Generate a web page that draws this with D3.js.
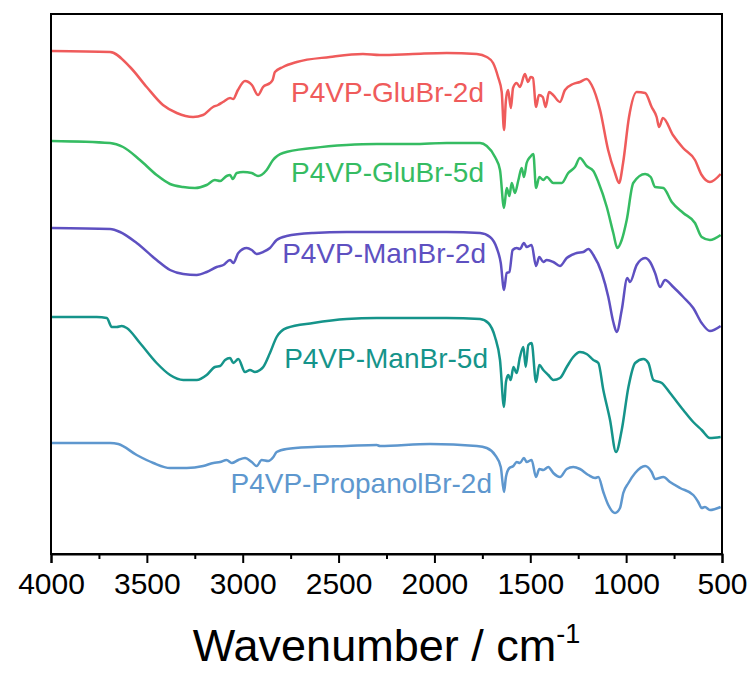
<!DOCTYPE html>
<html>
<head>
<meta charset="utf-8">
<script src="https://cdn.jsdelivr.net/npm/d3@7"></script>
<style>
  html, body { margin: 0; padding: 0; background: #fff; }
  svg { display: block; }
</style>
</head>
<body>
<svg id="chart" width="753" height="674"></svg>
<script>
// ---- data (wavenumber cm^-1, transmittance in stacked arbitrary units) ----
const seriesNames = ["P4VP-GluBr-2d", "P4VP-GluBr-5d", "P4VP-ManBr-2d", "P4VP-ManBr-5d", "P4VP-PropanolBr-2d"];

const gluBr2d = [[3996,50.3],[3692,50.2],[3588,48.7],[3501,46.7],[3416,44.9],[3344,44.1],[3259,43.7],[3207,43.9],[3155,44.7],[3129,44.9],[3103,45.2],[3066,45.6],[3050,45.5],[3025,46.4],[2988,47.3],[2952,46.9],[2920,45.9],[2894,46.7],[2858,47.1],[2844,47.4],[2832,48.2],[2790,48.7],[2718,49.2],[2545,49.7],[2373,50.0],[2284,49.9],[2112,50.0],[1936,50.1],[1779,50.0],[1727,49.7],[1694,49.1],[1668,47.7],[1649,46.2],[1637,42.4],[1627,45.4],[1616,46.4],[1601,44.6],[1590,46.6],[1571,47.1],[1554,46.7],[1528,48.0],[1512,47.2],[1498,47.7],[1486,47.6],[1470,44.7],[1455,45.9],[1435,45.7],[1420,44.7],[1402,46.2],[1381,45.9],[1345,45.2],[1319,46.4],[1277,47.0],[1241,47.2],[1206,47.5],[1180,46.9],[1136,44.4],[1094,40.4],[1058,38.1],[1037,37.1],[1016,39.1],[985,43.7],[945,46.2],[901,46.1],[867,44.7],[841,43.7],[828,42.7],[808,43.6],[756,41.9],[703,40.6],[641,39.4],[606,37.9],[563,37.2],[507,38.0]];

const gluBr5d = [[3996,41.3],[3692,41.1],[3624,40.7],[3536,39.4],[3449,37.9],[3379,37.0],[3311,36.7],[3249,36.6],[3188,36.9],[3145,37.4],[3118,37.3],[3084,37.8],[3066,37.9],[3052,37.5],[3031,38.1],[2998,38.2],[2953,38.1],[2920,37.8],[2875,38.4],[2842,39.4],[2790,40.1],[2633,40.6],[2458,40.9],[2301,41.0],[2112,41.0],[1936,41.1],[1762,41.1],[1727,40.8],[1684,39.7],[1658,38.4],[1637,34.6],[1623,36.6],[1609,35.8],[1597,37.1],[1580,36.1],[1562,37.4],[1545,38.6],[1533,37.7],[1519,39.1],[1501,39.7],[1484,40.0],[1470,36.6],[1453,37.7],[1432,37.4],[1414,37.7],[1380,37.1],[1336,37.1],[1302,38.1],[1267,38.7],[1241,39.6],[1206,38.8],[1171,38.3],[1145,37.2],[1101,34.7],[1067,32.1],[1046,30.6],[1023,31.4],[997,33.4],[963,37.1],[901,38.0],[872,37.7],[849,36.7],[806,36.6],[762,35.2],[702,34.1],[641,33.1],[606,31.7],[563,31.4],[507,31.9]];

const manBr2d = [[3996,32.6],[3692,32.5],[3640,32.2],[3553,31.1],[3449,29.4],[3379,28.4],[3310,28.0],[3240,27.9],[3188,28.2],[3136,28.7],[3101,28.9],[3066,29.4],[3049,29.1],[3023,30.1],[2979,30.6],[2953,30.4],[2927,30.0],[2893,30.2],[2858,30.6],[2823,31.4],[2771,31.8],[2632,32.1],[2458,32.2],[2301,32.2],[2110,32.2],[1936,32.2],[1762,32.1],[1710,31.7],[1675,30.6],[1654,29.1],[1637,26.4],[1623,28.1],[1609,28.2],[1592,30.4],[1571,30.6],[1554,30.5],[1533,31.1],[1519,30.7],[1493,30.9],[1470,28.8],[1453,29.7],[1432,29.2],[1414,29.4],[1380,29.2],[1345,28.8],[1310,29.6],[1258,30.1],[1223,30.2],[1197,30.5],[1171,29.9],[1127,28.1],[1093,25.7],[1067,23.2],[1049,22.2],[1023,24.4],[994,27.6],[980,27.2],[945,28.9],[901,29.6],[875,29.2],[849,28.1],[823,26.7],[797,27.4],[754,26.7],[702,25.7],[650,24.6],[606,23.1],[563,22.3],[507,22.8]];

const manBr5d = [[3996,23.7],[3762,23.7],[3709,23.6],[3683,22.7],[3657,22.7],[3631,22.8],[3605,22.6],[3536,21.1],[3449,19.1],[3379,17.9],[3310,17.4],[3240,17.4],[3188,17.9],[3145,18.7],[3118,18.8],[3092,19.4],[3066,19.6],[3049,19.1],[3023,19.5],[2988,18.2],[2962,18.4],[2936,18.2],[2910,18.4],[2893,18.7],[2858,20.1],[2823,21.7],[2771,22.6],[2632,23.1],[2458,23.5],[2301,23.6],[2110,23.6],[1936,23.6],[1762,23.5],[1719,23.1],[1684,21.7],[1658,19.4],[1637,14.7],[1627,17.2],[1615,17.9],[1602,17.4],[1588,18.7],[1571,18.1],[1554,19.7],[1536,20.7],[1524,18.7],[1510,20.9],[1493,21.1],[1470,17.2],[1453,18.9],[1432,18.4],[1406,17.9],[1380,17.4],[1345,17.6],[1310,18.7],[1276,19.7],[1241,20.2],[1206,20.0],[1171,19.4],[1145,19.1],[1119,16.4],[1084,13.4],[1053,10.2],[1023,12.4],[988,16.7],[953,19.1],[910,19.5],[884,19.1],[858,17.4],[814,17.1],[771,16.1],[702,14.4],[650,13.2],[606,12.4],[563,11.6],[507,11.7]];

const propanolBr2d = [[3996,11.1],[3692,11.1],[3649,11.0],[3553,9.9],[3466,9.1],[3379,8.6],[3292,8.6],[3206,8.8],[3153,9.1],[3118,9.2],[3084,9.4],[3057,9.1],[3023,9.4],[2988,9.6],[2953,9.2],[2927,8.8],[2901,9.4],[2867,9.3],[2840,9.7],[2823,10.2],[2771,10.5],[2632,10.7],[2458,10.8],[2301,10.9],[2284,10.8],[2023,11.0],[1779,10.8],[1727,10.6],[1684,9.9],[1654,8.7],[1637,6.2],[1627,7.7],[1609,8.6],[1588,8.8],[1571,9.2],[1554,9.1],[1533,9.6],[1519,9.2],[1493,9.4],[1470,7.7],[1453,8.5],[1432,8.4],[1406,8.7],[1380,8.1],[1345,7.7],[1310,8.5],[1276,8.7],[1241,8.5],[1197,7.9],[1162,7.6],[1145,7.7],[1119,6.2],[1093,4.9],[1058,4.1],[1032,4.6],[1015,6.1],[988,7.1],[953,8.1],[901,8.8],[867,8.2],[849,7.5],[806,7.7],[771,7.2],[719,6.6],[650,5.9],[624,5.2],[606,4.6],[589,4.7],[563,4.4],[507,4.7]];

const seriesValues = [gluBr2d, gluBr5d, manBr2d, manBr5d, propanolBr2d];
const xTicks = [4000, 3500, 3000, 2500, 2000, 1500, 1000, 500];
const xMinorTicks = [3750, 3250, 2750, 2250, 1750, 1250, 750];

// ---- styles / layout ----
const colors = ["#EF5B5B", "#35BC62", "#5E50C1", "#15948A", "#5E97CE"];
const labelLayout = [
  { x: 484, y: 102 },
  { x: 484, y: 182 },
  { x: 486, y: 263 },
  { x: 488, y: 368 },
  { x: 492, y: 493 }
];
const plot = { left: 51, right: 722, top: 14, bottom: 554 };

const svg = d3.select("#chart");
const font = "'Liberation Sans', Arial, Helvetica, sans-serif";

const x = d3.scaleLinear().domain([4000, 500]).range([plot.left, plot.right]);
const y = d3.scaleLinear().domain([0, 54]).range([plot.bottom, plot.top]);

// curves
const line = d3.line()
  .x(d => x(d[0]))
  .y(d => y(d[1]))
  .curve(d3.curveMonotoneX);

seriesValues.forEach((vals, i) => {
  svg.append("path")
    .datum(vals)
    .attr("d", line)
    .attr("fill", "none")
    .attr("stroke", colors[i])
    .attr("stroke-width", 2.5)
    .attr("stroke-linejoin", "round");
});

// labels
seriesNames.forEach((name, i) => {
  svg.append("text")
    .attr("x", labelLayout[i].x)
    .attr("y", labelLayout[i].y)
    .attr("text-anchor", "end")
    .attr("font-family", font)
    .attr("font-size", 28)
    .attr("fill", colors[i])
    .text(name);
});

// frame
svg.append("rect")
  .attr("x", plot.left).attr("y", plot.top)
  .attr("width", plot.right - plot.left)
  .attr("height", plot.bottom - plot.top)
  .attr("fill", "none")
  .attr("stroke", "#000")
  .attr("stroke-width", 2);

// x axis
const xAxis = d3.axisBottom(x)
  .tickValues(xTicks)
  .tickSize(9)
  .tickPadding(10)
  .tickFormat(d3.format("d"));
const gx = svg.append("g")
  .attr("transform", `translate(0,${plot.bottom})`)
  .call(xAxis);
gx.select(".domain").attr("stroke-width", 2);
gx.selectAll(".tick line").attr("stroke-width", 2);
gx.selectAll(".tick text")
  .attr("font-family", font)
  .attr("font-size", 30)
  .attr("fill", "#000");

const gxm = svg.append("g")
  .attr("transform", `translate(0,${plot.bottom})`)
  .call(d3.axisBottom(x).tickValues(xMinorTicks).tickSize(5).tickFormat(""));
gxm.select(".domain").remove();
gxm.selectAll(".tick line").attr("stroke-width", 2);

// axis title
const title = svg.append("text")
  .attr("x", (plot.left + plot.right) / 2)
  .attr("y", 661)
  .attr("text-anchor", "middle")
  .attr("font-family", font)
  .attr("font-size", 45)
  .attr("fill", "#000");
title.append("tspan").text("Wavenumber / cm");
title.append("tspan").attr("dy", -18).attr("font-size", 27).text("-1");
</script>
</body>
</html>
